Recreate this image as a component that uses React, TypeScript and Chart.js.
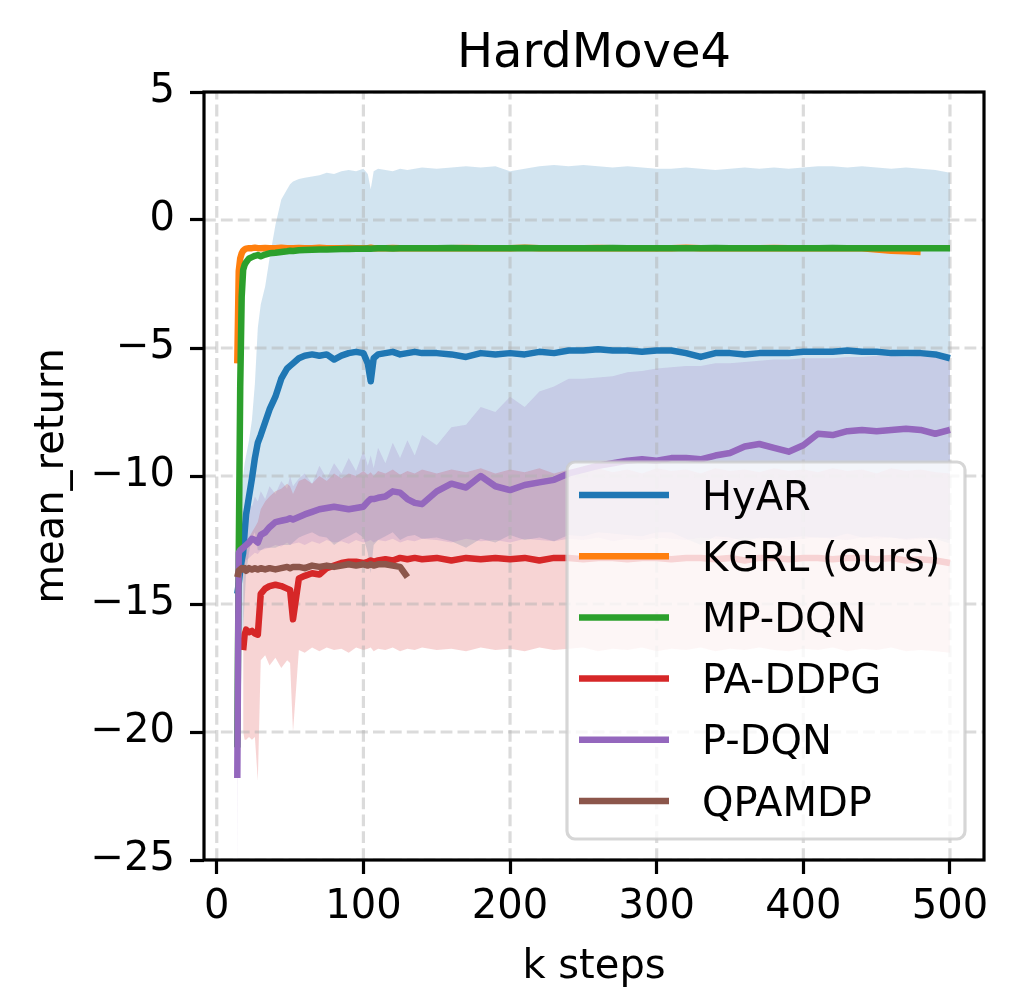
import React, { useEffect, useRef } from 'react';
import { Chart, registerables } from 'chart.js';

Chart.register(...registerables);

const FONT = "'DejaVu Sans', sans-serif";

// x positions (k steps)
const kSteps = [14, 15, 16, 17, 18, 19, 20, 22, 24, 26, 28, 30, 33, 36, 40, 44, 48, 50, 52, 56, 60, 65, 70, 75, 80, 85, 90, 95, 100, 103, 105, 107, 110, 115, 120, 125, 130, 135, 140,
  150, 160, 170, 180, 190, 200, 210, 220, 230, 240, 250, 260, 270, 280, 290, 300, 310, 320, 330, 340, 350, 360, 370, 380, 390, 400, 410, 420, 430, 440, 450, 460, 470, 480, 490, 500];

// HyAR
const hyarMean = [-14.6, -14.2, -13.7, -13.3, -13.0, -12.2, -11.5, -10.8, -10.1, -9.3, -8.7, -8.4, -7.9, -7.4, -6.9, -6.2, -5.8, -5.7, -5.6, -5.4, -5.3, -5.25, -5.3, -5.25, -5.45, -5.3, -5.2, -5.15, -5.2, -5.6, -6.3, -5.4, -5.25, -5.2, -5.15, -5.25, -5.2, -5.15, -5.2,
  -5.2, -5.25, -5.35, -5.2, -5.25, -5.2, -5.25, -5.15, -5.2, -5.1, -5.1, -5.05, -5.1, -5.1, -5.15, -5.1, -5.1, -5.2, -5.35, -5.2, -5.2, -5.25, -5.2, -5.2, -5.2, -5.15, -5.15, -5.15, -5.1, -5.15, -5.15, -5.2, -5.2, -5.2, -5.25, -5.4];
const hyarUpper = [-13.5, -12.4, -11.3, -10.6, -10.0, -9.5, -9.2, -8.6, -7.8, -6.4, -4.2, -3.3, -2.6, -1.5, -0.2, 0.8, 1.2, 1.4, 1.5, 1.6, 1.65, 1.7, 1.75, 1.85, 1.8, 1.9, 1.95, 1.9, 2.0, 1.8, 1.2, 1.9, 2.0, 1.95, 1.9, 2.0, 1.95, 2.0, 2.05,
  2.0, 2.05, 2.1, 2.05, 2.1, 1.9, 2.0, 2.1, 2.15, 2.1, 2.15, 2.1, 2.05, 2.1, 2.05, 2.0, 2.0, 2.05, 2.0, 1.95, 2.0, 2.05, 2.0, 2.05, 2.0, 2.05, 2.1, 2.1, 2.05, 2.1, 2.05, 2.0, 2.05, 2.0, 1.95, 1.85];
const hyarLower = [-15.7, -16.0, -16.1, -16.0, -16.0, -14.9, -13.8, -13.0, -12.4, -12.2, -12.9, -12.9, -12.8, -12.8, -12.8, -12.7, -12.7, -12.7, -12.6, -12.4, -12.3, -12.2, -12.35, -12.4, -12.7, -12.5, -12.35, -12.2, -12.4, -13.0, -13.8, -12.7, -12.5, -12.35, -12.2, -12.5, -12.35, -12.3, -12.45,
  -12.4, -12.55, -12.8, -12.45, -12.6, -12.3, -12.5, -12.4, -12.55, -12.3, -12.35, -12.2, -12.25, -12.3, -12.35, -12.2, -12.2, -12.45, -12.7, -12.35, -12.4, -12.55, -12.4, -12.45, -12.4, -12.35, -12.4, -12.4, -12.25, -12.4, -12.35, -12.4, -12.45, -12.4, -12.45, -12.65];

// KGRL (ours)
const kgrlMean = [-5.6, -2.0, -1.5, -1.3, -1.2, -1.15, -1.12, -1.1, -1.1, -1.08, -1.1, -1.1, -1.09, -1.1, -1.1, -1.08, -1.1, -1.1, -1.1, -1.09, -1.1, -1.1, -1.08, -1.1, -1.1, -1.1, -1.09, -1.1, -1.1, -1.1, -1.08, -1.1, -1.1, -1.1, -1.09, -1.1, -1.1, -1.1, -1.1,
  -1.1, -1.1, -1.09, -1.1, -1.1, -1.1, -1.08, -1.1, -1.1, -1.1, -1.1, -1.09, -1.1, -1.1, -1.1, -1.1, -1.1, -1.08, -1.1, -1.1, -1.1, -1.1, -1.1, -1.09, -1.1, -1.1, -1.1, -1.1, -1.1, -1.1, -1.15, -1.2, -1.22, -1.25];

// MP-DQN
const mpdqnMean = [-20.6, -13.0, -6.5, -3.0, -1.95, -1.75, -1.65, -1.5, -1.45, -1.4, -1.37, -1.42, -1.35, -1.3, -1.28, -1.25, -1.22, -1.2, -1.21, -1.18, -1.17, -1.16, -1.15, -1.15, -1.14, -1.13, -1.13, -1.12, -1.12, -1.11, -1.12, -1.11, -1.1, -1.1, -1.11, -1.1, -1.1, -1.1, -1.1,
  -1.1, -1.09, -1.1, -1.1, -1.1, -1.1, -1.09, -1.1, -1.1, -1.1, -1.1, -1.1, -1.09, -1.1, -1.1, -1.1, -1.1, -1.1, -1.1, -1.09, -1.1, -1.1, -1.1, -1.1, -1.1, -1.1, -1.1, -1.09, -1.1, -1.1, -1.1, -1.1, -1.1, -1.1, -1.1, -1.1];

// PA-DDPG
const paddpgMean = [null, null, null, null, -16.8, -16.2, -16.0, -16.1, -16.05, -16.15, -16.2, -14.6, -14.4, -14.3, -14.25, -14.3, -14.4, -14.45, -15.6, -14.0, -13.9, -13.8, -13.85, -13.6, -13.5, -13.4, -13.35, -13.35, -13.4, -13.35, -13.3, -13.35, -13.3, -13.25, -13.3, -13.2, -13.25, -13.2, -13.25,
  -13.2, -13.3, -13.2, -13.25, -13.2, -13.25, -13.2, -13.3, -13.2, -13.2, -13.25, -13.2, -13.2, -13.25, -13.2, -13.2, -13.25, -13.2, -13.2, -13.25, -13.2, -13.3, -13.2, -13.2, -13.25, -13.2, -13.2, -13.25, -13.2, -13.2, -13.25, -13.2, -13.3, -13.25, -13.3, -13.4];
const paddpgUpper = [null, null, null, null, -13.2, -12.8, -12.6, -12.4, -12.2, -12.0, -11.8, -11.3, -11.0, -10.8, -10.6, -10.5, -10.3, -10.4, -10.7, -10.2, -10.1, -10.3, -10.0, -10.2, -9.9, -10.1, -9.9, -10.0, -9.8, -9.95, -9.85, -10.0, -9.8, -9.9, -9.75, -9.95, -9.8, -9.9, -9.75,
  -9.9, -9.75, -9.85, -9.7, -9.9, -9.75, -9.85, -9.7, -9.9, -9.75, -9.8, -9.7, -9.85, -9.75, -9.9, -9.7, -9.8, -9.75, -9.9, -9.7, -9.8, -9.75, -9.85, -9.7, -9.8, -9.75, -9.85, -9.7, -9.8, -9.75, -9.9, -9.7, -9.8, -9.75, -9.85, -9.9];
const paddpgLower = [null, null, null, null, -20.0, -20.3, -20.3, -20.2, -20.3, -20.2, -21.9, -17.2, -17.0, -17.4, -17.1, -17.5, -17.2, -17.3, -20.0, -16.8, -16.9, -16.7, -16.85, -16.7, -16.8, -16.75, -16.9, -16.7, -16.8, -16.75, -16.7, -16.85, -16.75, -16.8, -16.7, -16.85, -16.75, -16.8, -16.7,
  -16.8, -16.75, -16.85, -16.7, -16.8, -16.75, -16.85, -16.7, -16.8, -16.75, -16.7, -16.85, -16.75, -16.8, -16.7, -16.85, -16.75, -16.8, -16.7, -16.85, -16.75, -16.8, -16.7, -16.8, -16.85, -16.75, -16.8, -16.7, -16.85, -16.75, -16.8, -16.7, -16.85, -16.8, -16.85, -16.9];

// P-DQN
const pdqnMean = [-21.8, -13.0, -12.9, -12.85, -12.8, -12.75, -12.7, -12.6, -12.45, -12.5, -12.6, -12.3, -12.2, -12.0, -11.8, -11.75, -11.7, -11.65, -11.7, -11.6, -11.5, -11.4, -11.3, -11.25, -11.2, -11.25, -11.3, -11.25, -11.2, -11.0, -10.9, -10.9, -10.85, -10.8, -10.6, -10.65, -10.9, -11.05, -11.1,
  -10.6, -10.3, -10.45, -10.0, -10.4, -10.55, -10.35, -10.25, -10.15, -9.9, -9.75, -9.6, -9.5, -9.4, -9.35, -9.4, -9.3, -9.3, -9.35, -9.2, -9.1, -8.85, -8.75, -8.9, -9.05, -8.8, -8.35, -8.4, -8.25, -8.2, -8.25, -8.2, -8.15, -8.2, -8.35, -8.2];
const pdqnUpper = [-17.5, -11.8, -11.5, -11.3, -11.4, -11.2, -11.3, -11.0, -11.2, -10.8, -11.0, -10.6, -10.9, -10.4, -10.7, -10.2, -10.5, -10.0, -10.4, -10.1, -9.9, -10.3, -9.6, -10.1, -9.5, -9.9, -9.3, -9.8, -9.0, -9.6, -9.2, -9.7, -8.9, -9.5, -8.7, -9.3, -8.6, -9.2, -8.4,
  -8.8, -8.1, -8.0, -7.3, -7.5, -6.9, -7.3, -6.7, -6.5, -6.2, -6.2, -6.15, -6.1, -5.95, -5.9, -5.8, -5.75, -5.7, -5.7, -5.6, -5.6, -5.55, -5.5, -5.45, -5.45, -5.4, -5.4, -5.4, -5.35, -5.35, -5.3, -5.3, -5.35, -5.3, -5.3, -5.3];
const pdqnLower = [-26, -14.2, -13.9, -13.7, -13.5, -13.4, -13.3, -13.2, -13.1, -13.0, -13.05, -12.9, -12.85, -12.8, -12.7, -12.75, -12.6, -12.7, -12.65, -12.6, -12.7, -12.55, -12.65, -12.5, -12.6, -12.55, -12.65, -12.5, -12.6, -12.55, -12.5, -12.6, -12.5, -12.55, -12.45, -12.6, -12.5, -12.55, -12.45,
  -12.5, -12.6, -12.45, -12.55, -12.5, -12.6, -12.45, -12.5, -12.55, -12.45, -12.5, -12.4, -12.55, -12.45, -12.5, -12.4, -12.45, -12.5, -12.4, -12.45, -12.5, -12.4, -12.45, -12.4, -12.5, -12.45, -12.4, -12.45, -12.5, -12.4, -12.45, -12.4, -12.5, -12.45, -12.4, -12.5];

// QPAMDP (stops around 130k steps)
const qpamdpMean = [-13.95, -13.7, -13.65, -13.6, -13.65, -13.6, -13.7, -13.6, -13.65, -13.6, -13.65, -13.6, -13.65, -13.6, -13.65, -13.6, -13.55, -13.6, -13.55, -13.55, -13.6, -13.5, -13.55, -13.5, -13.55, -13.5, -13.45, -13.5, -13.45, -13.5, -13.45, -13.5, -13.45, -13.45, -13.5, -13.55, -13.95];

const seriesNames = ['HyAR', 'KGRL (ours)', 'MP-DQN', 'PA-DDPG', 'P-DQN', 'QPAMDP'];
const seriesColors = ['#1f77b4', '#ff7f0e', '#2ca02c', '#d62728', '#9467bd', '#8c564b'];
const seriesMeans = [hyarMean, kgrlMean, mpdqnMean, paddpgMean, pdqnMean, qpamdpMean];
const xTickValues = [0, 100, 200, 300, 400, 500];
const yTickValues = [-25, -20, -15, -10, -5, 0, 5];

function toPoints(ys: (number | null)[]) {
  const out: { x: number; y: number }[] = [];
  for (let i = 0; i < kSteps.length; i++) {
    const y = ys[i];
    if (y === null || y === undefined) continue;
    out.push({ x: kSteps[i], y });
  }
  return out;
}

function rgba(hex: string, a: number) {
  const r = parseInt(hex.slice(1, 3), 16);
  const g = parseInt(hex.slice(3, 5), 16);
  const b = parseInt(hex.slice(5, 7), 16);
  return `rgba(${r},${g},${b},${a})`;
}

function fmtTick(v: number) {
  return v < 0 ? '\u2212' + Math.abs(v) : String(v);
}

const decorPlugin = {
  id: 'decor',
  beforeDatasetDraw(chart: any, args: any) {
    const ds = chart.data.datasets[args.index];
    if (!ds || !ds.gridBefore) return;
    const { ctx, chartArea: a, scales } = chart;
    ctx.save();
    ctx.beginPath();
    ctx.rect(a.left, a.top, a.right - a.left, a.bottom - a.top);
    ctx.clip();
    ctx.strokeStyle = 'rgba(176,176,176,0.45)';
    ctx.lineWidth = 3.2;
    ctx.setLineDash([11.8, 5.1]);
    for (const v of xTickValues) {
      const px = scales.x.getPixelForValue(v);
      ctx.beginPath();
      ctx.moveTo(px, a.bottom);
      ctx.lineTo(px, a.top);
      ctx.stroke();
    }
    for (const v of yTickValues) {
      const py = scales.y.getPixelForValue(v);
      ctx.beginPath();
      ctx.moveTo(a.left, py);
      ctx.lineTo(a.right, py);
      ctx.stroke();
    }
    ctx.restore();
  },
  afterDatasetsDraw(chart: any) {
    const { ctx, chartArea: a } = chart;
    ctx.save();
    ctx.strokeStyle = '#000';
    ctx.lineWidth = 3.2;
    ctx.setLineDash([]);
    ctx.strokeRect(a.left, a.top, a.right - a.left, a.bottom - a.top);
    ctx.restore();
  },
  afterDraw(chart: any) {
    const { ctx, chartArea: a } = chart;
    const cx = (a.left + a.right) / 2;
    ctx.save();
    ctx.fillStyle = '#000';
    // title
    ctx.font = `48px ${FONT}`;
    ctx.textAlign = 'center';
    ctx.textBaseline = 'alphabetic';
    ctx.fillText('HardMove4', cx, 67);
    // x label
    ctx.font = `40px ${FONT}`;
    ctx.fillText('k steps', cx, 978);
    // y label
    ctx.save();
    ctx.translate(63, (a.top + a.bottom) / 2);
    ctx.rotate(-Math.PI / 2);
    ctx.fillText('mean_return', 0, 0);
    ctx.restore();

    // legend
    const x0 = 567, y0 = 462, x1 = 965, y1 = 839, r = 8;
    ctx.beginPath();
    ctx.moveTo(x0 + r, y0);
    ctx.lineTo(x1 - r, y0);
    ctx.arcTo(x1, y0, x1, y0 + r, r);
    ctx.lineTo(x1, y1 - r);
    ctx.arcTo(x1, y1, x1 - r, y1, r);
    ctx.lineTo(x0 + r, y1);
    ctx.arcTo(x0, y1, x0, y1 - r, r);
    ctx.lineTo(x0, y0 + r);
    ctx.arcTo(x0, y0, x0 + r, y0, r);
    ctx.closePath();
    ctx.fillStyle = 'rgba(255,255,255,0.8)';
    ctx.fill();
    ctx.strokeStyle = 'rgba(204,204,204,0.8)';
    ctx.lineWidth = 3.2;
    ctx.stroke();

    ctx.font = `40px ${FONT}`;
    ctx.textAlign = 'left';
    ctx.textBaseline = 'alphabetic';
    for (let i = 0; i < seriesNames.length; i++) {
      const ry = 495 + i * 61.2;
      ctx.strokeStyle = seriesColors[i];
      ctx.lineWidth = 6.5;
      ctx.beginPath();
      ctx.moveTo(579, ry);
      ctx.lineTo(669, ry);
      ctx.stroke();
      ctx.fillStyle = '#000';
      ctx.fillText(seriesNames[i], 702, ry + 14.6);
    }
    ctx.restore();
  },
};

export default function App() {
  const ref = useRef<HTMLCanvasElement | null>(null);

  useEffect(() => {
    document.body.style.margin = '0';
    const canvas = ref.current;
    if (!canvas) return;

    const datasets: any[] = [];
    const bands: [number, (number | null)[], (number | null)[]][] = [
      [0, hyarLower, hyarUpper],
      [3, paddpgLower, paddpgUpper],
      [4, pdqnLower, pdqnUpper],
    ];
    bands.forEach(([si, lo, hi], bi) => {
      const ord = 30 - bi;
      datasets.push({
        data: toPoints(lo),
        borderColor: 'rgba(0,0,0,0)',
        borderWidth: 0,
        pointRadius: 0,
        fill: false,
        tension: 0,
        order: ord,
      });
      datasets.push({
        data: toPoints(hi),
        borderColor: 'rgba(0,0,0,0)',
        borderWidth: 0,
        pointRadius: 0,
        fill: '-1',
        backgroundColor: rgba(seriesColors[si], 0.2),
        tension: 0,
        order: ord,
      });
    });
    seriesMeans.forEach((ys, i) => {
      datasets.push({
        label: seriesNames[i],
        data: toPoints(ys),
        borderColor: seriesColors[i],
        backgroundColor: seriesColors[i],
        borderWidth: 6.5,
        pointRadius: 0,
        fill: false,
        tension: 0,
        borderJoinStyle: 'round',
        borderCapStyle: 'butt',
        order: 16 - i,
        gridBefore: i === 0,
      });
    });

    const chart = new Chart(canvas, {
      type: 'line',
      data: { datasets },
      options: {
        responsive: false,
        animation: false,
        devicePixelRatio: 1,
        events: [],
        layout: { padding: { top: 92, right: 35, bottom: 0, left: 0 } },
        plugins: {
          legend: { display: false },
          title: { display: false },
          tooltip: { enabled: false },
        },
        scales: {
          x: {
            type: 'linear',
            min: -8.7,
            max: 523.2,
            afterBuildTicks: (s: any) => {
              s.ticks = xTickValues.map((v) => ({ value: v }));
            },
            afterFit: (s: any) => {
              s.height = 128;
            },
            grid: {
              display: true,
              drawOnChartArea: false,
              drawTicks: true,
              tickLength: 14,
              tickWidth: 3.2,
              tickColor: '#000',
              color: '#000',
            },
            border: { display: false },
            ticks: {
              color: '#000',
              font: { family: FONT, size: 40 },
              padding: 10,
              maxRotation: 0,
              autoSkip: false,
              callback: (v: any) => fmtTick(Number(v)),
            },
          },
          y: {
            type: 'linear',
            min: -25,
            max: 5,
            afterBuildTicks: (s: any) => {
              s.ticks = yTickValues.map((v) => ({ value: v }));
            },
            afterFit: (s: any) => {
              s.width = 204;
            },
            grid: {
              display: true,
              drawOnChartArea: false,
              drawTicks: true,
              tickLength: 14,
              tickWidth: 3.2,
              tickColor: '#000',
              color: '#000',
            },
            border: { display: false },
            ticks: {
              color: '#000',
              font: { family: FONT, size: 40 },
              padding: 15,
              autoSkip: false,
              callback: (v: any) => fmtTick(Number(v)),
            },
          },
        },
      },
      plugins: [decorPlugin],
    } as any);

    return () => {
      chart.destroy();
    };
  }, []);

  return (
    <div style={{ position: 'absolute', left: 0, top: 0, width: 1019, height: 988, background: '#fff' }}>
      <canvas ref={ref} width={1019} height={988} style={{ display: 'block' }} />
    </div>
  );
}
